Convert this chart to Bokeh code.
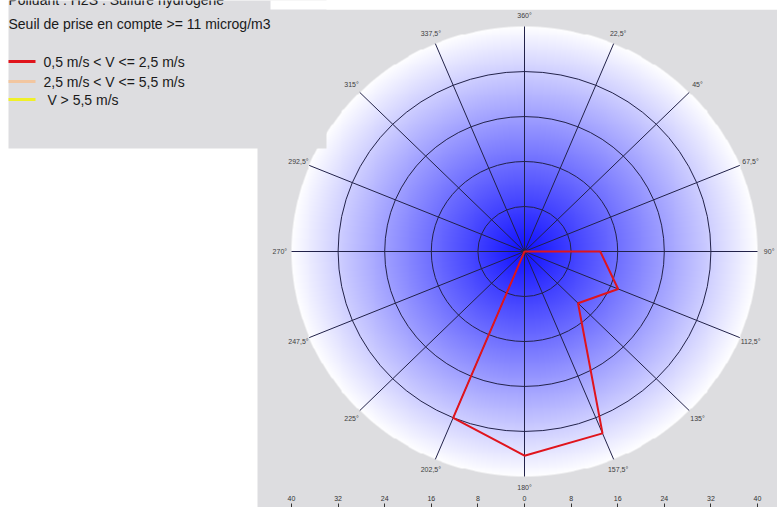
import numpy as np
from bokeh.plotting import figure
from bokeh.models import Range1d, LinearAxis, FixedTicker
from bokeh.core.properties import value
from bokeh.embed import file_html
from bokeh.resources import INLINE

# Wind sectors, degrees clockwise from north, and their labels
directions = [0, 22.5, 45, 67.5, 90, 112.5, 135, 157.5,
              180, 202.5, 225, 247.5, 270, 292.5, 315, 337.5]
direction_labels = ["360°", "22,5°", "45°", "67,5°", "90°", "112,5°", "135°", "157,5°",
                    "180°", "202,5°", "225°", "247,5°", "270°", "292,5°", "315°", "337,5°"]

# Mean concentration (microg/m3) per sector, one list per wind-speed class
low_speed = [0, 0, 0, 0, 13, 17.4, 13, 35, 36.3, 32, 0, 0, 0, 0, 0, 0]
mid_speed = [0, 0, 0, 0, 0, 0, 0, 0, 0, 0, 0, 0, 0, 0, 0, 0]
high_speed = [0, 0, 0, 0, 0, 0, 0, 0, 0, 0, 0, 0, 0, 0, 0, 0]

series_names = ["0,5 m/s < V <= 2,5 m/s", "2,5 m/s < V <= 5,5 m/s", "\u00a0V > 5,5 m/s"]
series_colors = ["#e0141c", "#f2c6a0", "#f0f028"]

ring_values = [8, 16, 24, 32]
r_max = 40
axis_ticks = [-40, -32, -24, -16, -8, 0, 8, 16, 24, 32, 40]

title_lines = ["Polluant : H2S : Sulfure hydrogène",
               "Seuil de prise en compte >= 11 microg/m3"]

# ---- page geometry (pixels) ----
W, H = 777, 507
CX, CY = 524, 251            # rose centre
SX, SY = 233 / 40, 225 / 40  # pixels per unit, horizontal / vertical
GRAY = "#dddde0"
GRID = "#22224a"
FONT_NAME = "Liberation Sans"
FONT = value(FONT_NAME)


def dx(px):
    return (px - CX) / SX


def dy(py):
    return (CY - py) / SY


p = figure(width=W, height=H, x_range=Range1d(dx(0), dx(W)), y_range=Range1d(dy(H), dy(0)),
           output_backend="svg", toolbar_location=None, x_axis_type=None, y_axis_type=None,
           min_border=0, outline_line_color=None,
           background_fill_color="white", border_fill_color="white")

# chart panel
p.quad(left=dx(257), right=dx(W), top=dy(9), bottom=dy(H + 5),
       fill_color=GRAY, line_color=None)

# radial gradient disk
N = 480
u = (np.arange(N) + 0.5) / N * 2 - 1
xx, yy = np.meshgrid(u, u)
rn = np.sqrt(xx ** 2 + yy ** 2)
shade = np.clip(16 + 239 * rn, 0, 255)
alpha = np.clip((1 - rn) * N / 2 + 0.5, 0, 1) * 255
img = np.zeros((N, N), dtype=np.uint32)
view = img.view(dtype=np.uint8).reshape((N, N, 4))
view[:, :, 0] = shade
view[:, :, 1] = shade
view[:, :, 2] = 255
view[:, :, 3] = alpha
p.image_rgba(image=[img], x=-r_max, y=-r_max, dw=2 * r_max, dh=2 * r_max)

# concentric rings and sector spokes
p.ellipse(x=0, y=0, width=[2 * r for r in ring_values], height=[2 * r for r in ring_values],
          fill_color=None, line_color=GRID, line_width=1)
theta = np.radians(directions)
p.segment(x0=0, y0=0, x1=r_max * np.sin(theta), y1=r_max * np.cos(theta),
          line_color=GRID, line_width=1)

# one closed polyline per wind-speed class
for vals, color in zip([high_speed, mid_speed, low_speed], series_colors[::-1]):
    r = np.array(vals + vals[:1], dtype=float)
    t = np.append(theta, theta[0])
    p.line(r * np.sin(t), r * np.cos(t), line_color=color, line_width=2)

# sector labels
p.text(x=42 * np.sin(theta), y=42 * np.cos(theta), text=direction_labels,
       text_font=FONT, text_font_size="7px", text_color="#404040",
       text_align="center", text_baseline="middle")

# legend panel
p.quad(left=dx(8), right=dx(326), top=dy(-5), bottom=dy(148),
       fill_color=GRAY, line_color=None)
p.quad(left=dx(270), right=dx(W + 5), top=dy(-5), bottom=dy(9),
       fill_color="white", line_color=None)

p.text(x=dx(8), y=[dy(-1), dy(23)], text=title_lines, text_font=FONT,
       text_font_size="14px", text_color="#1a1a1a", text_baseline="alphabetic")

rows = [61, 81, 99]
p.segment(x0=dx(8), x1=dx(35), y0=[dy(r) for r in rows], y1=[dy(r) for r in rows],
          line_color=series_colors, line_width=3)
p.text(x=dx(43), y=[dy(r) for r in rows], text=series_names, text_font=FONT,
       text_font_size="14px", text_color="#1a1a1a", text_baseline="middle")

# concentration scale along the bottom edge
scale = LinearAxis(fixed_location=dy(H),
                   ticker=FixedTicker(ticks=axis_ticks, minor_ticks=[]),
                   major_label_overrides={t: str(abs(t)) for t in axis_ticks},
                   axis_line_color=None, major_tick_out=4, major_tick_in=0,
                   minor_tick_out=0, minor_tick_in=0,
                   major_tick_line_color="#333333",
                   major_label_text_font=FONT_NAME, major_label_text_font_size="7px",
                   major_label_text_color="#333333", major_label_standoff=3)
p.add_layout(scale, "above")

open("out.html", "w").write(file_html(p, INLINE))
